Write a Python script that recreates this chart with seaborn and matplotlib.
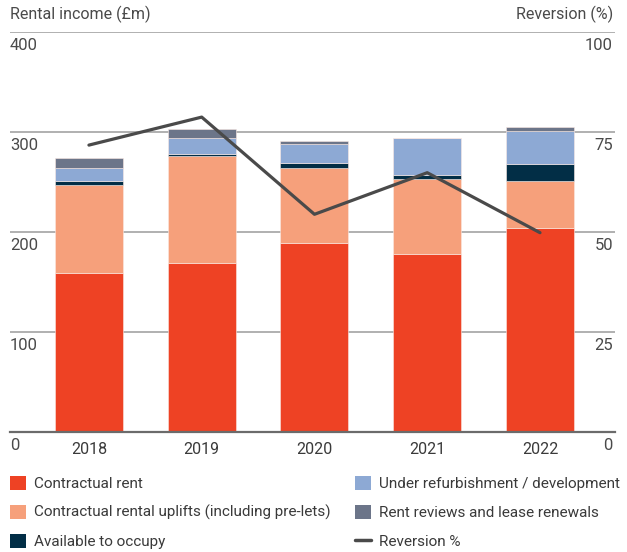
import matplotlib
matplotlib.use("Agg")
import matplotlib.pyplot as plt
import matplotlib.transforms as mtrans
from matplotlib.patches import Patch
from matplotlib.lines import Line2D
import numpy as np
import pandas as pd
import seaborn as sns

# ---- data ----
years = ["2018", "2019", "2020", "2021", "2022"]
contractual_rent = [159.6, 169.6, 189.6, 178.6, 204.6]
rental_uplifts = [87.4, 106.7, 75.0, 74.7, 46.4]
available_to_occupy = [4.3, 2.3, 5.0, 3.7, 17.3]
under_refurbishment = [12.7, 16.0, 18.7, 37.0, 33.0]
rent_reviews = [10.6, 8.7, 3.3, 0.0, 3.7]
reversion_pct = [71.8, 78.8, 54.5, 64.9, 49.9]

left_ticks = [0, 100, 200, 300, 400]
right_ticks = [0, 25, 50, 75, 100]

series_names = ["Contractual rent",
                "Contractual rental uplifts (including pre-lets)",
                "Available to occupy",
                "Under refurbishment / development",
                "Rent reviews and lease renewals"]
series_vals = [contractual_rent, rental_uplifts, available_to_occupy,
               under_refurbishment, rent_reviews]
colors = ["#EE4224", "#F6A07B", "#022E46", "#8DA9D4", "#6C7589"]
line_color = "#4A4A4A"
line_label = "Reversion %"

sns.set_style("white")
FONT = ["Roboto", "DejaVu Sans"]
plt.rcParams["font.family"] = FONT
txt_col = "#4a4a4a"

W, H = 627, 552
fig = plt.figure(figsize=(W / 100, H / 100), dpi=100)
ax = fig.add_axes([10 / W, (H - 432.3) / H, 605 / W, 400 / H])

df = pd.DataFrame({"year": years})
bottom = np.zeros(len(years))
for name, vals, c in zip(series_names, series_vals, colors):
    df[name] = vals
    sns.barplot(data=df, x="year", y=name, color=c, saturation=1,
                bottom=bottom.copy(), width=0.603, ax=ax,
                edgecolor="#fbe9e3", linewidth=0.4, zorder=2)
    bottom += np.array(vals)

ax.set_ylim(0, 400)
ax.set_xlim(-0.70, 4.665)
ax.set_yticks(left_ticks)
ax.yaxis.grid(True, color="#a3a3a3", linewidth=1.2, zorder=0)
ax.set_axisbelow(True)
for s in ["left", "right", "top"]:
    ax.spines[s].set_visible(False)
ax.spines["bottom"].set_color("#6b6b6b")
ax.spines["bottom"].set_linewidth(1.6)
ax.set_xlabel("")
ax.set_ylabel("")
ax.tick_params(axis="y", length=0, labelleft=False)
ax.tick_params(axis="x", length=0, pad=7, labelsize=11.5, labelcolor="#3a3a3a")

# left tick labels (below gridlines)
off = mtrans.offset_copy(ax.get_yaxis_transform(), fig=fig, x=0, y=-6, units="dots")
for v in left_ticks:
    ax.text(0, v, str(v), transform=off, ha="left", va="top",
            fontsize=12, color=txt_col)

ax2 = ax.twinx()
sns.lineplot(x=np.arange(len(years)), y=reversion_pct, ax=ax2,
             color=line_color, linewidth=2.3, zorder=5)
ax2.set_ylim(0, 100)
ax2.set_xlim(-0.70, 4.665)
ax2.set_yticks(right_ticks)
ax2.tick_params(axis="y", length=0, labelright=False)
for s in ax2.spines.values():
    s.set_visible(False)
ax2.grid(False)
off2 = mtrans.offset_copy(ax2.get_yaxis_transform(), fig=fig, x=-2, y=-6, units="dots")
for v in right_ticks:
    ax2.text(1, v, str(v), transform=off2, ha="right", va="top",
             fontsize=12, color=txt_col)

fig.text(10 / W, 1 - 14 / H, "Rental income (£m)", ha="left", va="center",
         fontsize=11.5, color=txt_col)
fig.text(613 / W, 1 - 14 / H, "Reversion (%)", ha="right", va="center",
         fontsize=11.5, color=txt_col)

# legends
handles = [Patch(facecolor=c, edgecolor="none") for c in colors]
lhandle = Line2D([0], [0], color=line_color, linewidth=2.5)
leg_kw = dict(frameon=False, fontsize=11, handlelength=1.05, handleheight=1.05,
              handletextpad=0.55, labelspacing=0.88, borderpad=0, borderaxespad=0,
              loc="upper left", labelcolor="#3a3a3a")
l1 = fig.legend(handles[:3], series_names[:3],
                bbox_to_anchor=(10 / W, 1 - 476 / H), **leg_kw)
l2 = fig.legend(handles[3:] + [lhandle], series_names[3:] + [line_label],
                bbox_to_anchor=(355 / W, 1 - 476 / H), **leg_kw)

fig.savefig("out.png", dpi=100)
